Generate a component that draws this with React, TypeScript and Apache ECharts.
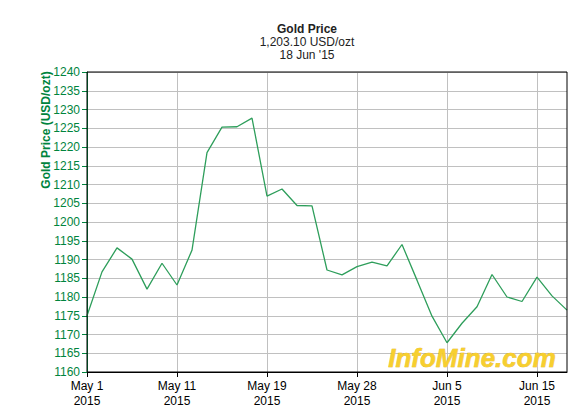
import React, { useEffect, useRef } from "react";
import * as echarts from "echarts";

const dates = [
  "May 1", "May 4", "May 5", "May 6", "May 7", "May 8",
  "May 11", "May 12", "May 13", "May 14", "May 15", "May 18",
  "May 19", "May 20", "May 21", "May 22", "May 26", "May 27",
  "May 28", "May 29", "Jun 1", "Jun 2", "Jun 3", "Jun 4",
  "Jun 5", "Jun 8", "Jun 9", "Jun 10", "Jun 11", "Jun 12",
  "Jun 15", "Jun 16", "Jun 17",
];
const prices = [
  1175.0, 1186.7, 1193.1, 1190.1, 1182.1, 1189.0,
  1183.2, 1192.5, 1218.5, 1225.3, 1225.4, 1227.7,
  1206.9, 1208.8, 1204.4, 1204.3, 1187.2, 1185.9,
  1188.1, 1189.3, 1188.3, 1194.0, 1184.5, 1174.9,
  1167.8, 1173.0, 1177.4, 1186.0, 1180.0, 1178.8,
  1185.3, 1180.3, 1176.5,
];
const labeledIndexes = [0, 6, 12, 18, 24, 30];
const yearLabel = "2015";
const titleLines = ["Gold Price", "1,203.10 USD/ozt", "18 Jun '15"];
const yAxisName = "Gold Price (USD/ozt)";
const watermark = "InfoMine.com";

const GREEN = "#00843d";
const FONT = "Liberation Sans, Arial, sans-serif";

export default function App() {
  const ref = useRef<HTMLDivElement>(null);
  useEffect(() => {
    const chart = echarts.init(ref.current!, null, { renderer: "svg" });
    const show = (i: number) => labeledIndexes.includes(i);
    chart.setOption({
      animation: false,
      backgroundColor: "#ffffff",
      grid: { left: 87, right: 17, top: 72, bottom: 41, containLabel: false },
      graphic: [
        {
          type: "text",
          x: 307,
          y: 23,
          style: { text: titleLines[0], font: `bold 12px ${FONT}`, fill: "#222", textAlign: "center", textVerticalAlign: "top" },
        },
        {
          type: "text",
          x: 307,
          y: 36,
          style: { text: titleLines[1], font: `12px ${FONT}`, fill: "#222", textAlign: "center", textVerticalAlign: "top" },
        },
        {
          type: "text",
          x: 307,
          y: 49,
          style: { text: titleLines[2], font: `12px ${FONT}`, fill: "#222", textAlign: "center", textVerticalAlign: "top" },
        },
        {
          type: "text",
          x: 46,
          y: 130,
          rotation: Math.PI / 2,
          style: {
            text: yAxisName,
            font: `bold 12px ${FONT}`,
            fill: GREEN,
            textAlign: "center",
            textVerticalAlign: "middle",
          },
        },
        {
          type: "rect",
          shape: { x: 87, y: 72, width: 480, height: 300 },
          style: { fill: "none", stroke: "#000", lineWidth: 1 },
          z: 5,
        },
        {
          type: "text",
          x: 472,
          y: 358,
          z: 10,
          style: {
            text: watermark,
            font: `italic 900 26px ${FONT}`,
            fill: "#f7cf2f",
            stroke: "#e0a800",
            lineWidth: 0.5,
            textAlign: "center",
            textVerticalAlign: "middle",
            shadowColor: "rgba(80,80,80,0.8)",
            shadowOffsetX: 2,
            shadowOffsetY: 2,
            shadowBlur: 1,
          },
        },
      ],
      xAxis: {
        type: "category",
        data: dates,
        boundaryGap: false,
        axisLine: { lineStyle: { color: "#000", width: 1 } },
        axisTick: {
          show: true,
          length: 5,
          interval: (i: number) => show(i),
          lineStyle: { color: "#000" },
        },
        axisLabel: {
          interval: (i: number) => show(i),
          formatter: (v: string) => `${v}\n${yearLabel}`,
          color: "#000",
          fontFamily: FONT,
          fontSize: 12,
          lineHeight: 15,
          margin: 6,
          hideOverlap: false,
        },
        splitLine: {
          show: true,
          interval: (i: number) => show(i),
          lineStyle: { color: "#c0c0c0", width: 1 },
        },
      },
      yAxis: {
        type: "value",
        min: 1160,
        max: 1240,
        interval: 5,
        axisLine: { show: true, lineStyle: { color: GREEN, width: 1 } },
        axisTick: { show: true, length: 5, lineStyle: { color: GREEN } },
        axisLabel: { color: GREEN, fontFamily: FONT, fontSize: 12, margin: 7, formatter: (v: number) => String(v) },
        splitLine: { show: true, lineStyle: { color: "#c0c0c0", width: 1 } },
      },
      series: [
        {
          type: "line",
          data: prices,
          symbol: "none",
          lineStyle: { color: "#2e9e5b", width: 1.3 },
          z: 3,
        },
      ],
    });
    return () => chart.dispose();
  }, []);
  return <div ref={ref} style={{ width: 584, height: 413, position: "absolute", left: 0, top: 0 }} />;
}
